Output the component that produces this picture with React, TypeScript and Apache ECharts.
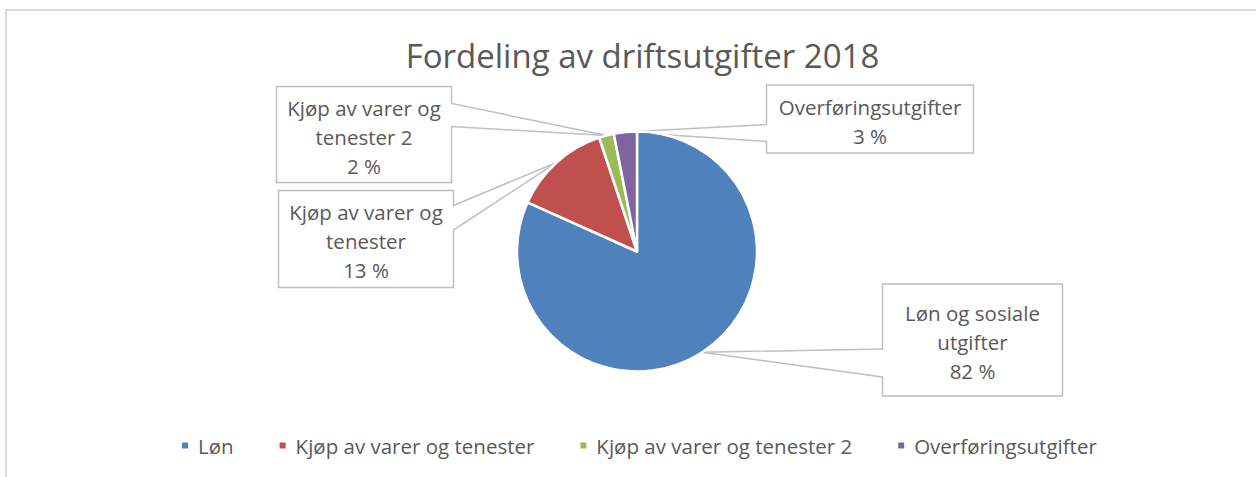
import React, { useEffect, useRef } from "react";
import * as echarts from "echarts";

// ---- data ----
const categories = [
  "Løn",
  "Kjøp av varer og tenester",
  "Kjøp av varer og tenester 2",
  "Overføringsutgifter",
];
const labelNames = [
  "Løn og sosiale\nutgifter",
  "Kjøp av varer og\ntenester",
  "Kjøp av varer og\ntenester 2",
  "Overføringsutgifter",
];
const values = [81.7, 13.2, 2.0, 3.1];
const colors = ["#4F81BD", "#C0504D", "#9BBB59", "#8064A2"];
const titleText = "Fordeling av driftsutgifter 2018";

// ---- layout of callout boxes (positions only) ----
type Box = { l: number; t: number; r: number; b: number; side: "left" | "right"; y1: number; y2: number; dy: number };
const calloutBoxes: Box[] = [
  { l: 882.5, t: 284, r: 1062.5, b: 396, side: "left", y1: 349, y2: 377, dy: 1.5 },
  { l: 278.5, t: 190.5, r: 453.5, b: 287.5, side: "right", y1: 205.5, y2: 230, dy: 2 },
  { l: 276.5, t: 86.5, r: 451.5, b: 182.5, side: "right", y1: 103.5, y2: 126.5, dy: 2.5 },
  { l: 766.5, t: 85, r: 973.5, b: 153, side: "left", y1: 124.5, y2: 141.5, dy: 2.5 },
];

const FONT = "'Open Sans', sans-serif";
const TEXT_COLOR = "#595959";

export default function App() {
  const ref = useRef<HTMLDivElement>(null);
  useEffect(() => {
    if (!ref.current) return;
    const chart = echarts.init(ref.current, undefined, { renderer: "svg" });
    chart.setOption({
      animation: false,
      backgroundColor: "#ffffff",
      color: colors,
      title: {
        text: titleText,
        left: 637.5,
        textAlign: "center",
        top: 30,
        textStyle: {
          fontFamily: FONT,
          fontSize: 33,
          fontWeight: "normal",
          color: TEXT_COLOR,
          lineHeight: 40,
        },
      },
      legend: {
        left: 180,
        top: 432.5,
        padding: 0,
        itemWidth: 8,
        itemHeight: 8,
        itemGap: 44,
        icon: "rect",
        textStyle: {
          fontFamily: FONT,
          fontSize: 20.5,
          color: TEXT_COLOR,
          lineHeight: 26,
          padding: [0, 0, 0, 4],
        },
        data: categories,
      },
      graphic: [
        {
          type: "rect",
          shape: { x: 6, y: 10, width: 1400, height: 700 },
          style: { fill: "none", stroke: "#d9d9d9", lineWidth: 2 },
          silent: true,
          z: -10,
        },
      ],
      series: [
        {
          type: "pie",
          center: [637, 251.5],
          radius: 120,
          startAngle: 90,
          clockwise: true,
          avoidLabelOverlap: false,
          itemStyle: { borderColor: "#ffffff", borderWidth: 2.5 },
          data: categories.map((name, i) => ({ name, value: values[i] })),
          label: {
            show: true,
            position: "outside",
            fontFamily: FONT,
            fontSize: 20.5,
            lineHeight: 29,
            color: TEXT_COLOR,
            align: "center",
            formatter: (p: any) => `${labelNames[p.dataIndex]}\n${Math.round(p.percent)} %`,
          },
          labelLine: {
            show: true,
            length: 10,
            length2: 10,
            lineStyle: { color: "#bfbfbf", width: 1.5 },
          },
          labelLayout: (params: any) => {
            const box = calloutBoxes[params.dataIndex];
            const tip = params.labelLinePoints ? params.labelLinePoints[0] : [0, 0];
            const { l, t, r, b, y1, y2 } = box;
            const pts =
              box.side === "right"
                ? [tip, [r, y1], [r, t], [l, t], [l, b], [r, b], [r, y2], tip]
                : [tip, [l, y1], [l, t], [r, t], [r, b], [l, b], [l, y2], tip];
            return {
              x: (l + r) / 2,
              y: (t + b) / 2 + box.dy,
              align: "center",
              verticalAlign: "middle",
              labelLinePoints: pts,
            };
          },
        },
      ],
    });
    return () => chart.dispose();
  }, []);
  return (
    <div
      ref={ref}
      style={{ position: "fixed", left: 0, top: 0, width: 1256, height: 477 }}
    />
  );
}
